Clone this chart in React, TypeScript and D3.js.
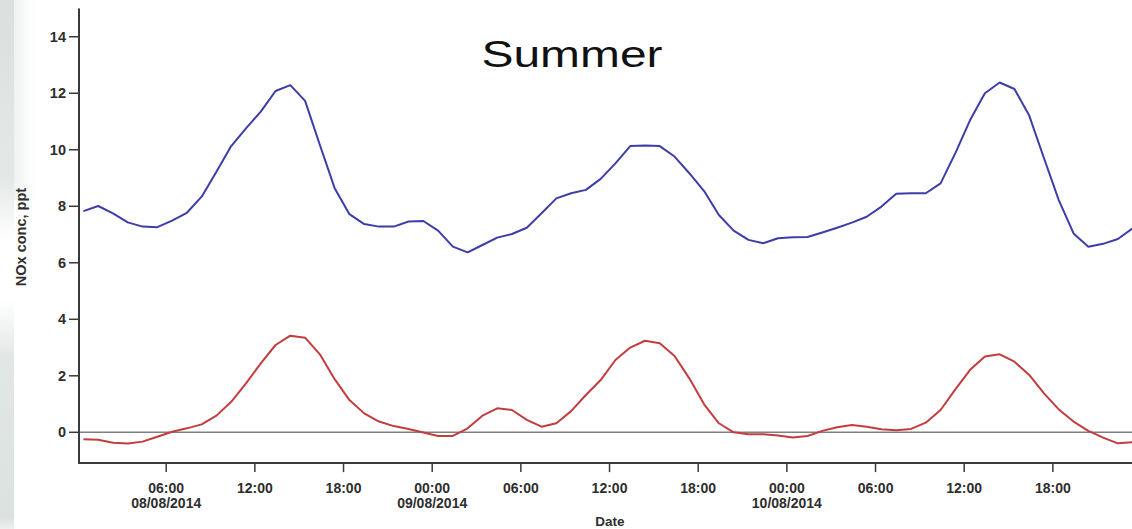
import React from "react";
import * as d3 from "d3";

// Hourly NOx concentrations (ppt), 08/08/2014 00:24 onwards
const blueSeries: number[] = [
  7.83, 8.01, 7.75, 7.43, 7.28, 7.26, 7.49, 7.77, 8.34, 9.22, 10.13, 10.76,
  11.35, 12.08, 12.29, 11.73, 10.17, 8.64, 7.72, 7.37, 7.28, 7.28, 7.46, 7.48,
  7.14, 6.57, 6.37, 6.63, 6.89, 7.02, 7.24, 7.75, 8.28, 8.46, 8.58, 8.97,
  9.52, 10.13, 10.15, 10.13, 9.76, 9.17, 8.54, 7.69, 7.14, 6.81, 6.69, 6.87,
  6.9, 6.91, 7.07, 7.24, 7.42, 7.63, 7.99, 8.44, 8.46, 8.46, 8.81, 9.88,
  11.05, 12.0, 12.38, 12.15, 11.21, 9.7, 8.22, 7.04, 6.57, 6.67, 6.84, 7.22,
];

const redSeries: number[] = [
  -0.25, -0.26, -0.37, -0.4, -0.33, -0.16, 0.02, 0.14, 0.28, 0.59, 1.08, 1.73,
  2.44, 3.09, 3.42, 3.35, 2.76, 1.88, 1.14, 0.67, 0.38, 0.22, 0.12, -0.01,
  -0.13, -0.13, 0.14, 0.59, 0.85, 0.79, 0.44, 0.2, 0.32, 0.75, 1.32, 1.85,
  2.56, 3.0, 3.24, 3.15, 2.7, 1.91, 0.99, 0.32, 0.0, -0.07, -0.07, -0.11,
  -0.18, -0.13, 0.05, 0.18, 0.26, 0.2, 0.11, 0.07, 0.12, 0.34, 0.79, 1.52,
  2.21, 2.68, 2.76, 2.5, 2.03, 1.38, 0.81, 0.38, 0.05, -0.19, -0.39, -0.35,
];

const yTicks: number[] = [0, 2, 4, 6, 8, 10, 12, 14];
const xTickHours: number[] = [6, 12, 18, 24, 30, 36, 42, 48, 54, 60, 66];
const xTickTimes: string[] = ["06:00", "12:00", "18:00", "00:00", "06:00", "12:00", "18:00", "00:00", "06:00", "12:00", "18:00"];
const xTickDates: string[] = ["08/08/2014", "", "", "09/08/2014", "", "", "", "10/08/2014", "", "", ""];

const TITLE = "Summer";
const Y_LABEL = "NOx conc, ppt";
const X_LABEL = "Date";

const W = 1132;
const H = 529;

const DAY0 = new Date(2014, 7, 8, 0, 0);
const START = new Date(2014, 7, 8, 0, 24);

export default function App() {
  const x = d3
    .scaleTime()
    .domain([d3.timeMinute.offset(DAY0, 6), d3.timeHour.offset(DAY0, 72)])
    .range([79, 79 + (72 - 0.1) * 14.778]);
  const y = d3.scaleLinear().domain([-1.09, 15]).range([463.1, 8.5]);

  const times = blueSeries.map((_, i) => d3.timeHour.offset(START, i));
  const line = d3
    .line<number>()
    .x((_, i) => x(times[i]))
    .y((d) => y(d));

  const font = "'Liberation Sans', Arial, sans-serif";
  const axisColor = "#3a3a3a";
  const textColor = "#2e2e2e";
  const x0 = x.range()[0];
  const yBottom = y(-1.09);
  const yTop = y(15);

  return (
    <svg
      width={W}
      height={H}
      style={{ position: "absolute", left: 0, top: 0, background: "#fff" }}
      fontFamily={font}
    >
      <defs>
        <linearGradient id="bgTop" x1="0" y1="0" x2="0" y2="1">
          <stop offset="0" stopColor="#d9e0dd" />
          <stop offset="0.75" stopColor="#e4e9e7" />
          <stop offset="1" stopColor="#ffffff" />
        </linearGradient>
        <linearGradient id="bgBot" x1="0" y1="0" x2="0" y2="1">
          <stop offset="0" stopColor="#ffffff" />
          <stop offset="0.25" stopColor="#e2e7e5" />
          <stop offset="0.95" stopColor="#dbe2df" />
          <stop offset="1" stopColor="#eef1f0" />
        </linearGradient>
        <linearGradient id="bgFade" x1="0" y1="0" x2="1" y2="0">
          <stop offset="0" stopColor="#e3e8e6" />
          <stop offset="1" stopColor="#ffffff" stopOpacity="0" />
        </linearGradient>
      </defs>
      <rect x={0} y={0} width={W} height={H} fill="#fff" />
      <rect x={0} y={0} width={14} height={240} fill="url(#bgTop)" />
      <rect x={14} y={0} width={28} height={200} fill="url(#bgFade)" opacity={0.6} />
      <rect x={0} y={300} width={14} height={229} fill="url(#bgBot)" />

      {/* title */}
      <text
        x={572}
        y={67}
        fontSize={36}
        textAnchor="middle"
        fill="#111"
        textLength={181}
        lengthAdjust="spacingAndGlyphs"
      >
        {TITLE}
      </text>

      {/* zero line */}
      <line x1={x0} x2={W} y1={y(0)} y2={y(0)} stroke="#808080" strokeWidth={1.5} />

      {/* series */}
      <path d={line(blueSeries) || ""} fill="none" stroke="#3d3da8" strokeWidth={2} strokeLinejoin="round" />
      <path d={line(redSeries) || ""} fill="none" stroke="#c43c3e" strokeWidth={2} strokeLinejoin="round" />

      {/* y axis */}
      <line x1={x0} x2={x0} y1={yTop} y2={yBottom} stroke={axisColor} strokeWidth={2} />
      {yTicks.map((t) => (
        <g key={t}>
          <line x1={x0 - 10} x2={x0} y1={y(t)} y2={y(t)} stroke={axisColor} strokeWidth={1.5} />
          <text
            x={x0 - 13}
            y={y(t) + 5}
            fontSize={14.5}
            fontWeight="bold"
            textAnchor="end"
            fill={textColor}
          >
            {t}
          </text>
        </g>
      ))}
      <text
        transform={`translate(26,237) rotate(-90)`}
        fontSize={14.5}
        fontWeight="bold"
        textAnchor="middle"
        fill={textColor}
      >
        {Y_LABEL}
      </text>

      {/* x axis */}
      <line x1={x0 - 1} x2={W} y1={yBottom} y2={yBottom} stroke={axisColor} strokeWidth={2} />
      {xTickHours.map((h, i) => {
        const xx = x(d3.timeHour.offset(DAY0, h));
        return (
          <g key={h}>
            <line x1={xx} x2={xx} y1={yBottom} y2={yBottom + 9} stroke={axisColor} strokeWidth={1.5} />
            <text x={xx} y={493} fontSize={14} fontWeight="bold" textAnchor="middle" fill={textColor}>
              {xTickTimes[i]}
            </text>
            {xTickDates[i] && (
              <text x={xx} y={508} fontSize={14} fontWeight="bold" textAnchor="middle" fill={textColor}>
                {xTickDates[i]}
              </text>
            )}
          </g>
        );
      })}
      <text x={610} y={526} fontSize={13.5} fontWeight="bold" textAnchor="middle" fill={textColor}>
        {X_LABEL}
      </text>
    </svg>
  );
}
